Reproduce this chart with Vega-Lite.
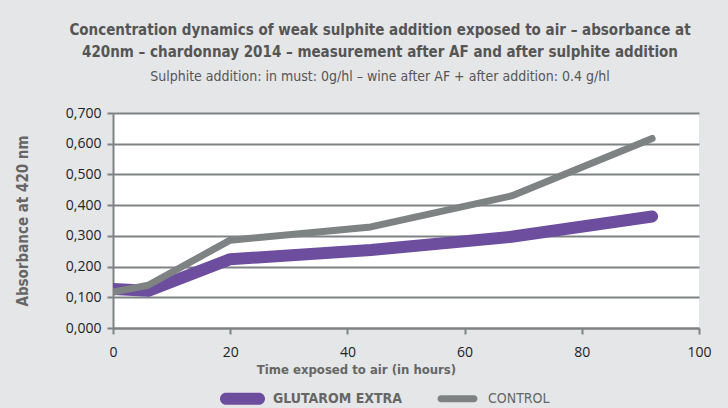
{
  "$schema": "https://vega.github.io/schema/vega-lite/v6.json",
  "width": 586,
  "height": 215,
  "autosize": {"type": "none"},
  "padding": {"left": 113, "top": 113, "right": 29, "bottom": 80},
  "background": "#e5e6e8",
  "title": {
    "text": ["Concentration dynamics of weak sulphite addition exposed to air – absorbance at", "420nm – chardonnay 2014 – measurement after AF and after sulphite addition"],
    "subtitle": "Sulphite addition: in must: 0g/hl – wine after AF + after addition: 0.4 g/hl",
    "font": "DejaVu Sans Condensed",
    "fontSize": 15,
    "fontWeight": "bold",
    "color": "#555555",
    "lineHeight": 22,
    "subtitleFont": "DejaVu Sans Condensed",
    "subtitleFontSize": 14,
    "subtitleColor": "#555555",
    "subtitlePadding": 10,
    "offset": 22,
    "dx": -26,
    "anchor": "middle"
  },
  "data": {
    "values": [
      {"series": "GLUTAROM EXTRA", "hours": 0, "absorbance": 0.127},
      {"series": "GLUTAROM EXTRA", "hours": 6, "absorbance": 0.121},
      {"series": "GLUTAROM EXTRA", "hours": 20, "absorbance": 0.224},
      {"series": "GLUTAROM EXTRA", "hours": 44, "absorbance": 0.254},
      {"series": "GLUTAROM EXTRA", "hours": 68, "absorbance": 0.297},
      {"series": "GLUTAROM EXTRA", "hours": 92, "absorbance": 0.363},
      {"series": "CONTROL", "hours": 0, "absorbance": 0.117},
      {"series": "CONTROL", "hours": 6, "absorbance": 0.139},
      {"series": "CONTROL", "hours": 20, "absorbance": 0.286},
      {"series": "CONTROL", "hours": 44, "absorbance": 0.329},
      {"series": "CONTROL", "hours": 68, "absorbance": 0.430},
      {"series": "CONTROL", "hours": 92, "absorbance": 0.617}
    ]
  },
  "mark": {"type": "line", "strokeCap": "round", "strokeJoin": "round", "clip": true},
  "encoding": {
    "x": {
      "field": "hours",
      "type": "quantitative",
      "scale": {"domain": [0, 100], "nice": false},
      "axis": {
        "title": "Time exposed to air (in hours)",
        "values": [0, 20, 40, 60, 80, 100],
        "grid": false,
        "labelFlush": false,
        "titleX": 243,
        "titlePadding": 4,
        "labelPadding": 11
      }
    },
    "y": {
      "field": "absorbance",
      "type": "quantitative",
      "scale": {"domain": [0, 0.7], "nice": false},
      "axis": {
        "title": "Absorbance at 420 nm",
        "values": [0, 0.1, 0.2, 0.3, 0.4, 0.5, 0.6, 0.7],
        "labelExpr": "replace(format(datum.value, '.3f'), '.', ',')",
        "labelFlush": false,
        "grid": true,
        "titlePadding": 35
      }
    },
    "color": {
      "field": "series",
      "type": "nominal",
      "sort": ["GLUTAROM EXTRA", "CONTROL"],
      "scale": {"domain": ["GLUTAROM EXTRA", "CONTROL"], "range": ["#6c4d9e", "#7f8283"]},
      "legend": {
        "title": null,
        "orient": "none",
        "direction": "horizontal",
        "legendX": 107,
        "legendY": 263,
        "symbolType": {"expr": "datum.label == 'CONTROL' ? 'M -0.733 -0.156 L 0.733 -0.156 A 0.156 0.156 0 0 1 0.733 0.156 L -0.733 0.156 A 0.156 0.156 0 0 1 -0.733 -0.156 Z' : 'M -0.733 -0.267 L 0.733 -0.267 A 0.267 0.267 0 0 1 0.733 0.267 L -0.733 0.267 A 0.267 0.267 0 0 1 -0.733 -0.267 Z'"},
        "symbolSize": 2025,
        "symbolStrokeWidth": 0,
        "symbolFillColor": {"expr": "datum.label == 'CONTROL' ? '#7f8283' : '#6c4d9e'"},
        "labelFont": "DejaVu Sans Condensed",
        "labelFontSize": 14,
        "labelColor": "#666666",
        "labelFontWeight": {"expr": "datum.label == 'GLUTAROM EXTRA' ? 'bold' : 'normal'"},
        "columnPadding": 32,
        "labelOffset": 8
      }
    },
    "strokeWidth": {
      "condition": {"test": "datum.series == 'CONTROL'", "value": 7},
      "value": 12
    }
  },
  "config": {
    "view": {"fill": "white", "stroke": null},
    "axis": {
      "domainColor": "#7f8283",
      "domainWidth": 2,
      "tickColor": "#7f8283",
      "tickWidth": 2,
      "tickSize": 6,
      "gridColor": "#7f8283",
      "gridWidth": 2,
      "labelFont": "Open Sans",
      "labelFontSize": 14,
      "labelColor": "#222222",
      "titleFont": "DejaVu Sans Condensed",
      "titleFontSize": 13,
      "titleFontWeight": "bold",
      "titleColor": "#666666",
      "labelPadding": 6
    },
    "axisY": {"titleFontSize": 15, "labelPadding": 6}
  }
}
